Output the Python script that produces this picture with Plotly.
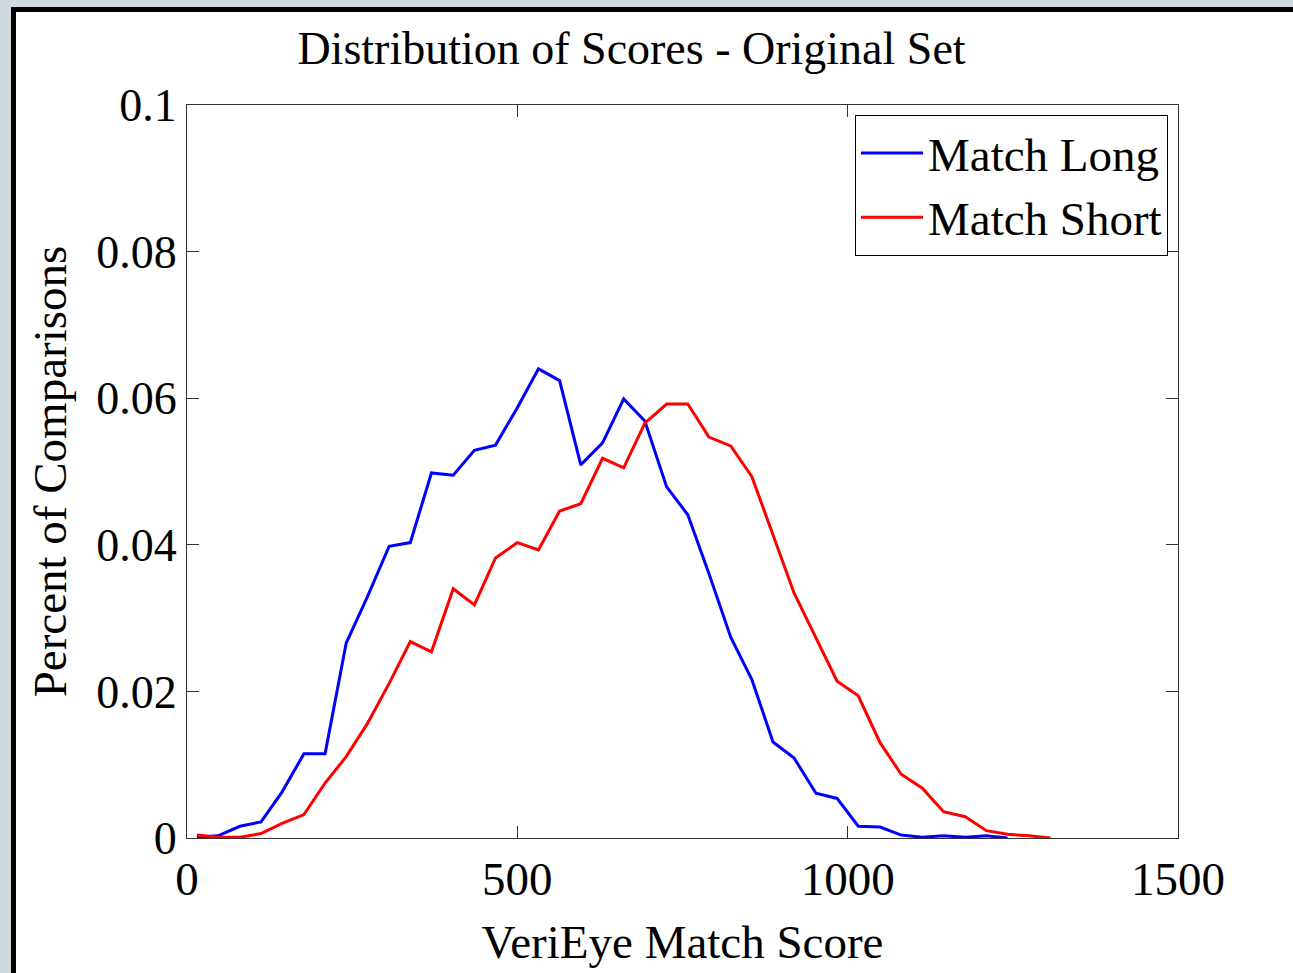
import plotly.graph_objects as go

# Score bin positions (VeriEye match score)
scores = [15, 47, 80, 112, 144, 177, 209, 241, 273, 306, 338, 370, 403, 435, 467,
          500, 532, 564, 596, 629, 661, 693, 726, 758, 790, 823, 855, 887, 919, 952,
          984, 1016, 1049, 1081, 1113, 1145, 1178, 1210, 1242, 1275, 1307]

match_long = [0.0001, 0.0003, 0.0016, 0.0022, 0.0063, 0.0115, 0.0115, 0.0266, 0.0329,
              0.0398, 0.0403, 0.0498, 0.0495, 0.0529, 0.0536, 0.0587, 0.0640, 0.0624,
              0.0509, 0.0539, 0.0599, 0.0569, 0.0479, 0.0441, 0.0361, 0.0274, 0.0216,
              0.0131, 0.0109, 0.0061, 0.0054, 0.0016, 0.0015, 0.0004, 0.0001, 0.0003,
              0.0001, 0.0003, 0.0000]

match_short = [0.0004, 0.0001, 0.0001, 0.0006, 0.0020, 0.0032, 0.0075, 0.0111, 0.0156,
               0.0211, 0.0268, 0.0254, 0.0340, 0.0318, 0.0382, 0.0403, 0.0393, 0.0446,
               0.0456, 0.0518, 0.0505, 0.0566, 0.0592, 0.0592, 0.0547, 0.0535, 0.0493,
               0.0413, 0.0334, 0.0273, 0.0214, 0.0194, 0.0130, 0.0087, 0.0068, 0.0036,
               0.0029, 0.0010, 0.0005, 0.0003, 0.0000]

x_ticks = [0, 500, 1000, 1500]
y_ticks = [0, 0.02, 0.04, 0.06, 0.08, 0.1]
y_tick_text = ["0", "0.02", "0.04", "0.06", "0.08", "0.1"]

FONT = "Liberation Serif"

fig = go.Figure()
fig.add_trace(go.Scatter(x=scores[:len(match_long)], y=match_long, mode="lines",
                         name="Match Long", line=dict(color="#0000ff", width=3)))
fig.add_trace(go.Scatter(x=scores[:len(match_short)], y=match_short, mode="lines",
                         name="Match Short", line=dict(color="#ff0000", width=3)))

axis_common = dict(showline=True, linecolor="#333333", linewidth=1, mirror="allticks",
                   ticks="inside", ticklen=12, tickcolor="#333333", showgrid=False,
                   zeroline=False)

fig.update_xaxes(range=[0, 1500], tickvals=x_ticks,
                 tickfont=dict(family=FONT, size=47, color="black"),
                 title=dict(text="VeriEye Match Score", font=dict(family=FONT, size=47, color="black"),
                            standoff=20),
                 **axis_common)
fig.update_yaxes(range=[0, 0.1], tickvals=y_ticks, ticktext=y_tick_text,
                 tickfont=dict(family=FONT, size=46, color="black"),
                 title=dict(text="Percent of Comparisons", font=dict(family=FONT, size=47, color="black"),
                            standoff=14),
                 **axis_common)

L, R, T, B = 187, 1178, 105, 838
W, H = 1293, 973

def px(x):
    return (x - L) / (R - L)

def py(y):
    return (B - y) / (B - T)

shapes = [
    dict(type="rect", xref="paper", yref="paper", x0=px(0), x1=px(W), y0=py(0), y1=py(7),
         fillcolor="#cfd8dc", line=dict(width=0), layer="above"),
    dict(type="rect", xref="paper", yref="paper", x0=px(0), x1=px(11), y0=py(0), y1=py(H),
         fillcolor="#cfd8dc", line=dict(width=0), layer="above"),
    dict(type="rect", xref="paper", yref="paper", x0=px(11), x1=px(W), y0=py(7), y1=py(12),
         fillcolor="black", line=dict(width=0), layer="above"),
    dict(type="rect", xref="paper", yref="paper", x0=px(11), x1=px(16), y0=py(7), y1=py(H),
         fillcolor="black", line=dict(width=0), layer="above"),
]

fig.update_layout(
    width=W, height=H,
    margin=dict(l=L, r=W - R, t=T, b=H - B, autoexpand=False),
    paper_bgcolor="white", plot_bgcolor="white",
    title=dict(text="Distribution of Scores - Original Set", x=px(671), xanchor="center",
               y=1 - 48 / H, yanchor="middle", font=dict(family=FONT, size=46, color="black")),
    legend=dict(x=px(1168), xanchor="right", y=py(115), yanchor="top",
                bordercolor="black", borderwidth=1, bgcolor="white", itemwidth=62,
                font=dict(family=FONT, size=47, color="black"), tracegroupgap=0),
    shapes=shapes,
    showlegend=True,
)

fig.write_html("out.html", config={"displayModeBar": False},
               post_script="document.body.style.margin='0';document.body.style.background='white';")
